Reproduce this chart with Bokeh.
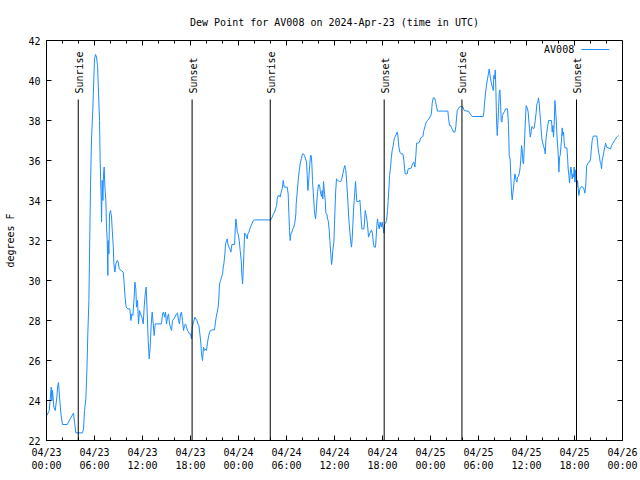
from math import pi
from bokeh.plotting import figure
from bokeh.models import FixedTicker, Range1d, Label
from bokeh.core.properties import value
from bokeh.embed import file_html
from bokeh.resources import INLINE

TITLE = "Dew Point for AV008 on 2024-Apr-23 (time in UTC)"
SERIES_NAME = "AV008"
Y_LABEL = "degrees F"

# hours since 2024-04-23 00:00 UTC
hours = [
    0.05, 0.34, 0.59, 0.67, 0.75, 0.92, 1.09, 1.30, 1.38, 1.50, 1.63, 1.80, 2.00, 2.59, 2.75, 2.96,
    3.38, 3.50, 3.67, 4.50, 4.63, 4.75, 4.92, 5.05, 5.17, 5.30, 5.38, 5.50, 5.63, 5.80, 5.92, 6.00,
    6.13, 6.25, 6.38, 6.50, 6.63, 6.71, 6.84, 6.88, 6.96, 7.05, 7.13, 7.21, 7.30, 7.42, 7.50, 7.59,
    7.67, 7.71, 7.80, 7.88, 8.00, 8.13, 8.21, 8.34, 8.42, 8.55, 8.67, 8.84, 8.96, 9.09, 9.34, 9.59,
    9.71, 9.84, 9.96, 10.17,
    10.42, 10.55, 10.67, 10.80, 10.96, 11.05, 11.17, 11.25, 11.38, 11.50, 11.63, 11.75, 11.92, 12.09,
    12.21, 12.34, 12.46, 12.59, 12.71, 12.84, 12.96, 13.09, 13.21, 13.34, 13.46, 13.59, 14.38, 14.50,
    14.63, 14.75, 14.88, 15.00, 15.13, 15.25, 15.38, 15.50, 15.63, 15.75, 15.92, 16.05, 16.25, 16.38,
    16.50, 16.63, 16.75, 16.88, 17.00, 17.13, 17.25, 17.38, 17.50, 17.63, 17.88, 18.00, 18.13, 18.21,
    18.38, 18.55, 18.67, 18.80, 18.92, 19.05, 19.17, 19.30, 19.38, 19.50, 19.63, 19.75, 19.88, 20.00,
    20.13, 20.25, 20.38, 20.50, 20.71,
    21.00, 21.09, 21.21, 21.34, 21.46, 21.55, 21.63, 21.76, 21.88, 22.01, 22.09, 22.17, 22.30, 22.38,
    22.51, 22.59, 22.67, 22.80, 22.92, 23.05, 23.17, 23.51, 23.59, 23.67, 23.76, 23.84, 23.96, 24.09,
    24.21, 24.34, 24.42, 24.51, 24.59, 24.67, 24.76, 24.88, 25.01, 25.09, 25.17, 25.30, 25.42, 25.59,
    25.71, 25.84, 26.01, 28.01, 28.21, 28.38, 28.51, 28.63, 28.76, 28.84, 28.96, 29.09, 29.21, 29.34,
    29.46, 29.59, 29.71, 29.96, 30.09, 30.21, 30.30, 30.38, 30.46, 30.55, 30.67, 30.80, 30.92, 31.05,
    31.17,
    31.21, 31.34, 31.46, 31.59, 31.71, 31.84, 32.00, 32.13, 32.25, 32.38, 32.50, 32.59, 32.67, 32.75,
    32.84, 32.92, 33.00, 33.09, 33.17, 33.25, 33.38, 33.50, 33.63, 33.71, 33.79, 33.88, 34.00, 34.13,
    34.21, 34.29, 34.38, 34.46, 34.54, 34.63, 34.71, 34.84, 34.92, 35.04, 35.13, 35.21, 35.34, 35.42,
    35.54, 35.63, 35.71, 35.79, 35.92, 36.00, 36.13, 36.25, 36.38, 36.50, 36.63, 36.79, 36.92, 37.04,
    37.17, 37.29, 37.42, 37.54, 37.67, 37.79, 37.92, 38.04, 38.13, 38.21, 38.29, 38.38, 38.46, 38.54,
    38.63, 38.71, 38.79, 39.04, 39.17, 39.25, 39.34, 39.42, 39.67, 39.75, 39.84, 39.92, 40.00, 40.09,
    40.17, 40.25, 40.38, 40.50, 40.63, 40.75, 40.84, 40.96, 41.13, 41.21, 41.29, 41.38,
    41.46, 41.59, 41.71, 41.84, 41.96, 42.09, 42.17, 42.26, 42.38, 42.51, 42.63, 42.71, 42.80, 42.88,
    43.01, 43.09, 43.21, 43.34, 43.46, 43.59, 43.71, 43.84, 43.92, 44.05, 44.17, 44.34, 44.55, 44.67,
    44.76, 44.84, 45.09, 45.21, 45.59, 45.76, 45.92, 46.05, 46.17, 46.26, 46.46, 46.63, 46.76, 47.05,
    47.17, 47.34, 47.46, 47.63, 47.80, 47.92, 48.05, 48.13, 48.21, 48.34, 48.51, 48.63, 48.76, 48.88,
    50.17, 50.26, 50.38, 50.51, 50.63, 50.76, 50.88, 51.05, 51.17, 51.26, 51.34, 51.46, 51.59, 51.76,
    51.88, 52.05, 52.21, 52.55, 52.75, 52.88, 53.05, 53.21, 54.59, 54.67, 54.75, 54.88, 55.00, 55.13,
    55.25, 55.34, 55.42, 55.50, 55.59, 55.67, 55.75, 55.84, 55.92, 56.00, 56.09, 56.17, 56.25, 56.34,
    56.42, 56.50, 56.59, 56.67, 56.75, 56.84, 56.92, 57.00, 57.13, 57.25, 57.38, 57.63, 57.75, 57.84,
    57.96, 58.05, 58.13, 58.21, 58.30, 58.38, 58.46, 58.55, 58.63, 58.71, 58.80, 58.88, 59.00, 59.13,
    59.21, 59.29, 59.38, 59.46, 59.55, 59.63, 59.71, 59.80, 59.88, 59.96, 60.05, 60.13, 60.21, 60.30,
    60.38, 60.46, 60.55, 60.63, 60.71, 60.80, 60.88, 60.96, 61.09, 61.21, 61.30, 61.42, 61.50, 61.59,
    61.67, 61.75, 61.84, 61.92, 62.05, 62.17, 62.30,
    62.34, 62.42, 62.51, 62.63, 62.76, 63.13, 63.21, 63.30, 63.38, 63.46, 63.55, 63.63, 63.71, 63.80,
    63.88, 63.96, 64.05, 64.13, 64.21, 64.30, 64.38, 64.46, 64.55, 64.63, 64.71, 64.80, 65.05, 65.13,
    65.21, 65.30, 65.38, 65.46, 65.55, 65.63, 65.71, 65.80, 65.88, 65.96, 66.05, 66.13, 66.21, 66.30,
    66.38, 66.46, 66.55, 66.67, 66.80, 66.92, 67.05, 67.17, 67.30, 67.42, 67.51, 67.63, 67.76, 67.88,
    68.01, 68.09, 68.21, 68.34, 68.80, 68.88, 68.96, 69.05, 69.13, 69.21, 69.30, 69.38, 69.46, 69.55,
    69.63, 69.71, 69.80, 69.88, 70.01, 70.51, 70.63, 70.76, 70.88, 71.01, 71.13, 71.26, 71.38, 71.51,
]

dewpoint = [
    23.25, 23.5, 24.67, 24.0, 24.5, 23.67, 23.5, 24.17, 24.67, 24.9, 24.17, 23.33, 22.8, 22.8, 22.92, 23.08,
    23.37, 22.92, 22.38, 22.38, 22.58, 23.5, 24.08, 25.5, 27.42, 29.0, 31.33, 34.75, 37.08, 38.67, 40.17, 41.08,
    41.3, 41.17, 40.75, 39.42, 38.0, 35.92, 34.0, 32.92, 35.0, 34.0, 35.33, 35.67, 34.67, 34.0, 32.67, 32.0,
    30.25, 32.0, 31.33, 33.33, 33.5, 33.17, 32.58, 31.75, 30.83, 30.42, 30.83, 31.0, 30.92, 30.58, 30.5, 30.42,
    29.83, 29.08, 28.67, 28.58,
    28.58, 28.0, 28.33, 28.25, 29.17, 29.92, 29.58, 28.67, 29.0, 27.83, 28.5, 28.33, 28.17, 27.83,
    28.67, 29.33, 29.67, 28.33, 27.0, 26.08, 26.67, 27.83, 28.42, 27.83, 27.25, 27.83, 27.83, 28.33,
    28.42, 28.17, 28.42, 27.83, 28.17, 28.33, 27.83, 27.67, 27.5, 28.0, 28.08, 28.17, 28.33, 28.37,
    28.0, 27.83, 28.33, 28.42, 28.0, 27.5, 27.75, 27.83, 27.67, 27.5, 27.33, 27.33, 27.08, 27.67,
    27.92, 28.17, 28.08, 28.0, 27.83, 27.75, 27.33, 26.83, 26.33, 26.0, 26.67, 26.5, 26.58, 26.5,
    26.92, 27.17, 27.42, 27.5, 27.53,
    27.53, 27.83, 28.17, 28.42, 28.67, 29.17, 29.83, 30.0, 30.17, 30.33, 30.67, 30.83, 31.33, 31.83,
    32.0, 32.08, 31.83, 31.67, 31.58, 31.42, 31.8, 31.8, 32.58, 33.08, 32.83, 32.42, 32.33, 32.0,
    31.5, 31.0, 30.25, 29.83, 30.5, 31.33, 32.37, 32.33, 32.17, 32.08, 32.33, 32.42, 32.58, 32.75,
    32.87, 33.0, 33.03, 33.03, 33.17, 33.33, 33.42, 33.58, 33.75, 34.08, 34.25, 34.25, 34.17, 34.42,
    34.58, 35.0, 34.67, 34.67, 34.67, 34.33, 33.33, 32.5, 32.0, 32.33, 32.42, 32.58, 32.67, 32.92,
    33.33,
    33.83, 34.42, 35.0, 35.5, 35.83, 36.08, 36.33, 36.33, 36.25, 36.08, 35.92, 35.25, 34.5, 34.83,
    35.42, 35.87, 36.25, 36.25, 35.83, 35.0, 34.17, 33.42, 33.08, 33.42, 33.92, 34.42, 34.78, 34.78,
    34.5, 34.33, 34.2, 34.5, 34.08, 34.95, 34.58, 34.0, 33.37, 33.33, 33.08, 33.0, 32.5, 32.0,
    31.33, 30.8, 31.0, 31.5, 31.92, 32.83, 34.33, 35.08, 35.03, 34.97, 34.95, 34.95, 35.08, 35.33,
    35.58, 35.75, 35.5, 34.83, 33.97, 33.08, 32.42, 31.92, 31.67, 32.08, 32.75, 33.53, 34.0, 34.42,
    34.95, 34.42, 33.95, 33.95, 34.03, 33.58, 33.0, 32.58, 32.58, 32.92, 33.5, 33.33, 33.17, 32.92,
    32.58, 32.17, 32.33, 32.42, 32.53, 32.33, 31.92, 31.67, 31.67, 32.17, 32.75, 33.08,
    32.83, 32.58, 32.92, 32.67, 32.92, 32.58, 32.37, 32.83, 32.87, 33.0, 33.5, 34.0, 34.58, 35.25,
    35.67, 36.08, 36.5, 36.75, 37.08, 37.2, 37.3, 37.42, 37.25, 36.67, 36.42, 36.33, 36.33, 36.0,
    35.58, 35.33, 35.33, 35.58, 35.62, 35.83, 35.92, 35.67, 36.25, 36.87, 36.87, 36.92, 37.13, 37.2,
    37.5, 37.75, 37.92, 38.0, 38.08, 38.17, 38.25, 38.42, 38.87, 39.13, 39.13, 38.95, 38.67, 38.47,
    38.47, 38.08, 37.75, 37.75, 37.63, 37.53, 37.42, 37.42, 37.7, 38.17, 38.5, 38.58, 38.67, 38.7,
    38.7, 38.67, 38.5, 38.47, 38.47, 38.37, 38.28, 38.2, 38.2, 38.42, 38.87, 39.37, 39.78, 40.08,
    40.37, 40.58, 40.33, 40.08, 39.92, 39.75, 39.67, 39.5, 40.25, 40.08, 40.53, 39.58, 38.08, 37.25,
    37.83, 38.5, 39.33, 39.53, 38.92, 38.0, 37.92, 38.25, 38.37, 38.45, 38.58, 38.58, 37.75, 36.25,
    36.08, 35.08, 34.37, 34.03, 34.37, 34.67, 35.0, 35.33, 35.17, 35.0, 34.92, 35.17, 35.2, 35.42,
    35.67, 36.08, 36.75, 36.53, 35.92, 35.83, 36.58, 37.42, 38.17, 38.75, 38.67, 38.58, 38.42, 37.92,
    37.58, 37.17, 37.33, 37.63, 37.7, 37.63, 37.58, 37.63, 38.0, 38.42, 38.83, 38.92, 39.13, 38.83,
    38.42, 38.0, 37.53, 37.08, 36.83, 36.67, 36.47,
    36.33, 37.0, 37.33, 37.67, 38.0, 38.0, 37.42, 37.75, 37.17, 37.75, 39.0, 38.58, 38.08, 37.33,
    36.83, 36.33, 35.42, 36.17, 36.25, 36.67, 37.08, 37.63, 37.25, 37.42, 36.92, 36.63, 36.63, 36.17,
    35.58, 35.25, 34.87, 35.33, 35.67, 35.42, 35.08, 35.33, 35.17, 35.67, 34.92, 35.53, 35.0, 34.67,
    35.0, 34.58, 34.25, 34.58, 34.67, 34.7, 34.67, 34.58, 34.37, 34.83, 35.7, 35.83, 35.92, 35.92,
    36.08, 36.5, 37.0, 37.22, 37.22, 36.92, 36.58, 36.33, 36.17, 35.92, 35.83, 35.58, 36.0, 36.17,
    36.33, 36.53, 36.67, 36.87, 36.67, 36.58, 36.75, 36.83, 36.92, 37.0, 37.08, 37.17, 37.2, 37.25,
]

sun_hours = [3.97, 18.20, 27.97, 42.21, 51.93, 66.25]
sun_labels = ["Sunrise", "Sunset", "Sunrise", "Sunset", "Sunrise", "Sunset"]

x_major_ticks = [0, 6, 12, 18, 24, 30, 36, 42, 48, 54, 60, 66, 72]
x_minor_ticks = list(range(0, 73, 2))
x_tick_labels = [
    "04/23\n00:00", "04/23\n06:00", "04/23\n12:00", "04/23\n18:00",
    "04/24\n00:00", "04/24\n06:00", "04/24\n12:00", "04/24\n18:00",
    "04/25\n00:00", "04/25\n06:00", "04/25\n12:00", "04/25\n18:00",
    "04/26\n00:00",
]
y_ticks = [22, 24, 26, 28, 30, 32, 34, 36, 38, 40, 42]

X_MIN, X_MAX = 0, 72
Y_MIN, Y_MAX = 22, 42
FONT = "DejaVu Sans Mono"
FS = "10px"
LINE_COLOR = "#1e8cff"
MAJOR_TICK = 5
MINOR_TICK = 3

p = figure(
    width=640, height=480, output_backend="svg", toolbar_location=None,
    x_range=Range1d(X_MIN, X_MAX), y_range=Range1d(Y_MIN, Y_MAX),
    min_border_left=46, min_border_right=18, min_border_top=40, min_border_bottom=40,
    background_fill_color="white", border_fill_color="white",
    outline_line_color="black", outline_line_width=1,
)
p.xgrid.visible = False
p.ygrid.visible = False

p.title.text = TITLE
p.title.align = "center"
p.title.text_font = FONT
p.title.text_font_size = FS
p.title.text_font_style = "normal"
p.title.text_color = "black"
p.title.standoff = 26

xt = FixedTicker(ticks=x_major_ticks, minor_ticks=x_minor_ticks)
yt = FixedTicker(ticks=y_ticks, minor_ticks=[])


def style_axis(ax):
    ax.axis_line_color = "black"
    ax.major_tick_in = MAJOR_TICK
    ax.major_tick_out = 0
    ax.minor_tick_in = MINOR_TICK
    ax.minor_tick_out = 0
    ax.major_tick_line_color = "black"
    ax.minor_tick_line_color = "black"
    ax.major_label_text_font = FONT
    ax.major_label_text_font_size = FS
    ax.major_label_text_color = "black"
    ax.axis_label_text_font = FONT
    ax.axis_label_text_font_size = FS
    ax.axis_label_text_font_style = "normal"
    ax.axis_label_text_color = "black"


xa = p.xaxis[0]
xa.ticker = xt
xa.major_label_overrides = {t: lab for t, lab in zip(x_major_ticks, x_tick_labels)}
style_axis(xa)
xa.major_label_standoff = 6

ya = p.yaxis[0]
ya.ticker = yt
style_axis(ya)
ya.major_label_standoff = 6
ya.axis_label = Y_LABEL
ya.axis_label_standoff = 9

# mirrored tick marks on the top and right borders (gnuplot style)
top_minor = [t for t in x_minor_ticks if t not in x_major_ticks]
p.ray(x=x_major_ticks, y=[Y_MAX] * len(x_major_ticks), length=MAJOR_TICK,
      length_units="screen", angle=-pi / 2, line_color="black", line_width=1)
p.ray(x=top_minor, y=[Y_MAX] * len(top_minor), length=MINOR_TICK,
      length_units="screen", angle=-pi / 2, line_color="black", line_width=1)
p.ray(x=[X_MAX] * len(y_ticks), y=y_ticks, length=MAJOR_TICK,
      length_units="screen", angle=pi, line_color="black", line_width=1)

# data line
p.line(hours, dewpoint, line_color=LINE_COLOR, line_width=1)

# sunrise / sunset markers
SUN_TOP = Y_MIN + 0.8525 * (Y_MAX - Y_MIN)
p.segment(x0=sun_hours, y0=[Y_MIN] * len(sun_hours), x1=sun_hours,
          y1=[SUN_TOP] * len(sun_hours), line_color="black", line_width=1)
p.text(x=sun_hours, y=[SUN_TOP + 0.3] * len(sun_hours), text=sun_labels,
       angle=pi / 2, text_align="left", text_baseline="middle",
       text_font=value(FONT), text_font_size=FS, text_color="black", x_offset=1)

# key (text then sample line, as in the original)
KEY_Y = Y_MAX - 0.45
p.add_layout(Label(x=65.96, y=KEY_Y, text=SERIES_NAME, text_align="right",
                   text_baseline="middle", text_font=FONT, text_font_size=FS,
                   text_color="black"))
p.line([66.84, 70.34], [KEY_Y, KEY_Y], line_color=LINE_COLOR, line_width=1)

open("out.html", "w").write(file_html(p, INLINE))
